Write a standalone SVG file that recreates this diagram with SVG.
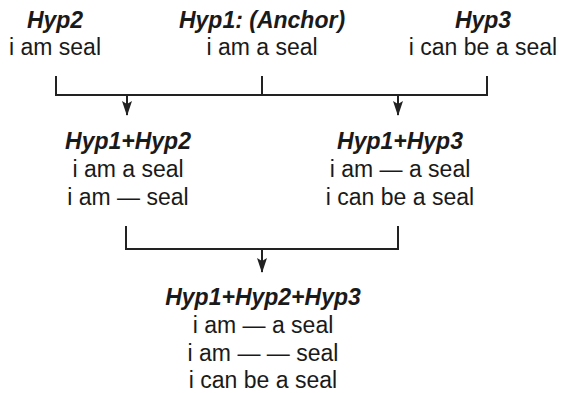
<svg xmlns="http://www.w3.org/2000/svg" width="561" height="393" viewBox="0 0 561 393">
<defs>
<style>
text{font-family:"Liberation Sans",Arial,sans-serif;font-size:23px;fill:#1a1a1a;text-anchor:middle}
.h{font-weight:bold;font-style:italic}
.c{fill:none;stroke:#222;stroke-width:2}
</style>
<marker id="ah" markerWidth="15" markerHeight="10" refX="14" refY="5" orient="auto" markerUnits="userSpaceOnUse" viewBox="0 0 15 10">
<path d="M0,0 L3,5 L0,10 L15,5 Z" fill="#222"/>
</marker>
</defs>
<rect width="561" height="393" fill="#fff"/>
<g id="hyp2"><text x="55" y="28" class="h">Hyp2</text><text x="55" y="55">i am seal</text></g>
<g id="hyp1"><text x="262" y="28" class="h">Hyp1: (Anchor)</text><text x="262" y="55">i am a seal</text></g>
<g id="hyp3"><text x="483" y="28" class="h">Hyp3</text><text x="483" y="55">i can be a seal</text></g>
<g id="hyp12"><text x="128" y="149" class="h">Hyp1+Hyp2</text><text x="128" y="177">i am a seal</text><text x="128" y="205">i am — seal</text></g>
<g id="hyp13"><text x="400" y="149" class="h">Hyp1+Hyp3</text><text x="400" y="177">i am — a seal</text><text x="400" y="205">i can be a seal</text></g>
<g id="hyp123"><text x="263" y="305" class="h">Hyp1+Hyp2+Hyp3</text><text x="263" y="333">i am — a seal</text><text x="263" y="361">i am — — seal</text><text x="263" y="388">i can be a seal</text></g>
<g id="connectors">
<path class="c" d="M56,76 V95 H487 V76 M262,76 V95"/>
<path class="c" d="M127,95 V115" marker-end="url(#ah)"/>
<path class="c" d="M398,95 V115" marker-end="url(#ah)"/>
<path class="c" d="M126,226 V249 H398 V226"/>
<path class="c" d="M262,249 V272" marker-end="url(#ah)"/>
</g>
</svg>
